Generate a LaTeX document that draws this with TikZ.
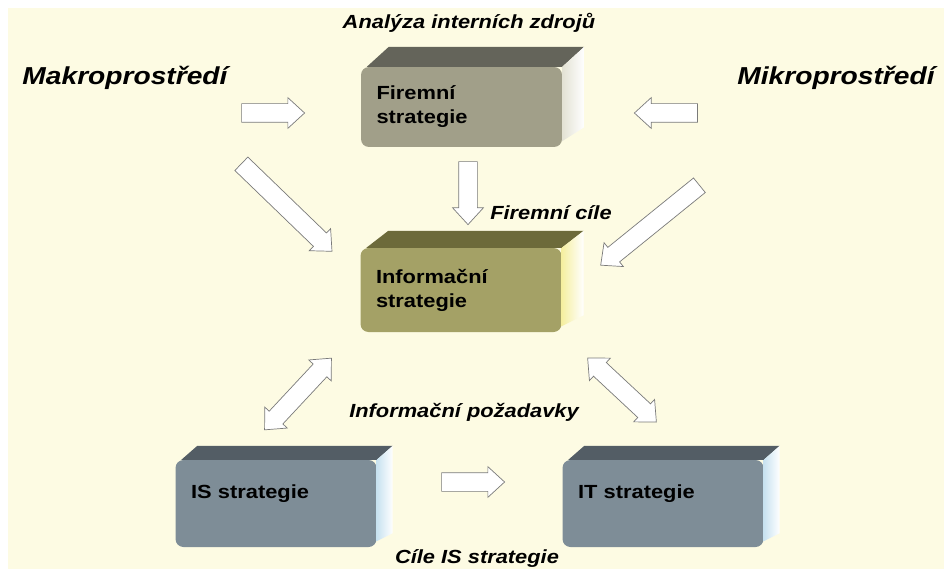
\documentclass[tikz,border=0pt]{standalone}
\usepackage{fontspec}
\setmainfont{Liberation Sans}[FakeStretch=1.15]
\usetikzlibrary{shapes.arrows, calc}
\definecolor{bg}{HTML}{FDFBE3}
\definecolor{ffront}{HTML}{A19F89}
\definecolor{ftop}{HTML}{64645A}
\definecolor{fside}{HTML}{E3E2D3}
\definecolor{ifront}{HTML}{A4A166}
\definecolor{itop}{HTML}{6C6A3A}
\definecolor{iside}{HTML}{F5EFA0}
\definecolor{sfront}{HTML}{7E8D97}
\definecolor{stop}{HTML}{535D65}
\definecolor{sside}{HTML}{C8E2F0}
\definecolor{agrey}{HTML}{7A7A7A}
\newcommand\lblfont{\fontsize{19}{22}\selectfont\bfseries\itshape}

\begin{document}
\begin{tikzpicture}[x=1pt, y=-1pt,
    box/.style={rounded corners=8pt, minimum width=201pt, minimum height=82pt, inner sep=0pt,
        text width=170pt, align=left, font=\fontsize{19}{24}\selectfont\bfseries},
    lbl/.style={font=\lblfont, anchor=base, inner sep=0pt},
    blockarrow/.style={single arrow, draw=agrey, fill=white, line width=0.7pt, inner xsep=0pt,
        inner ysep=9pt, single arrow head extend=6pt, single arrow tip angle=85, minimum height=#1},
    dblarrow/.style={double arrow, draw=agrey, fill=white, line width=0.7pt, inner xsep=0pt,
        inner ysep=9pt, double arrow head extend=6pt, double arrow tip angle=85, minimum height=#1}]
    \useasboundingbox (0,0) rectangle (944,569);
    \fill[white] (0,0) rectangle (944,569);
    \fill[bg] (8,8) rectangle (944,569);

    % boxes
    \node[box, fill=ffront, minimum height=80pt] (f) at (461.5,107) {Firemní\\strategie};
    \node[box, fill=ifront, minimum height=84pt] (i) at (461,290) {Informační\\strategie};
    \node[box, fill=sfront, minimum height=87pt] (is) at (276,503.5) {IS strategie\\~};
    \node[box, fill=sfront, minimum height=87pt] (it) at (663,503.5) {IT strategie\\~};
    \foreach \n/\t/\s/\dx/\dy in {f/ftop/fside/22/20, i/itop/iside/22/17, is/stop/sside/16/14, it/stop/sside/16/14} {
        \fill[\t] ($(\n.north west)+(6,0)$) -- ($(\n.north west)+(6+\dx,-\dy)$)
            -- ($(\n.north east)+(\dx,-\dy)$) -- (\n.north east) -- cycle;
        \shade[left color=\s, right color=white] (\n.north east) -- ($(\n.north east)+(\dx,-\dy)$)
            -- ($(\n.south east)+(\dx,-\dy)$) -- ($(\n.south east)+(0,-6)$) -- cycle;
    }

    % labels
    \node[lbl, font=\fontsize{24.5}{28}\selectfont\bfseries\itshape] (makro) at (125,85) {Makroprostředí};
    \node[lbl, font=\fontsize{24.5}{28}\selectfont\bfseries\itshape] (mikro) at (836,85) {Mikroprostředí};
    \node[lbl] (anal) at (469,29) {Analýza interních zdrojů};
    \node[lbl] (fcile) at (551,220) {Firemní cíle};
    \node[lbl] (pozad) at (464,417) {Informační požadavky};
    \node[lbl] (cile) at (477,563) {Cíle IS strategie};

    % arrows
    \node[blockarrow=63pt] (a1) at (268,113) {};
    \node[blockarrow=63pt, rotate=180] (a2) at (671,113) {};
    \node[blockarrow=63pt, rotate=-90] (a3) at (468,188) {};
    \node[blockarrow=126pt, rotate=-44] (a4) at (283,204) {};
    \node[blockarrow=127pt, rotate=219] (a5) at (654,222) {};
    \node[dblarrow=98pt, rotate=47] (a6) at (298,394) {};
    \node[dblarrow=94pt, rotate=-43] (a7) at (622,390) {};
    \node[blockarrow=63pt] (a8) at (468,482) {};
\end{tikzpicture}
\end{document}
